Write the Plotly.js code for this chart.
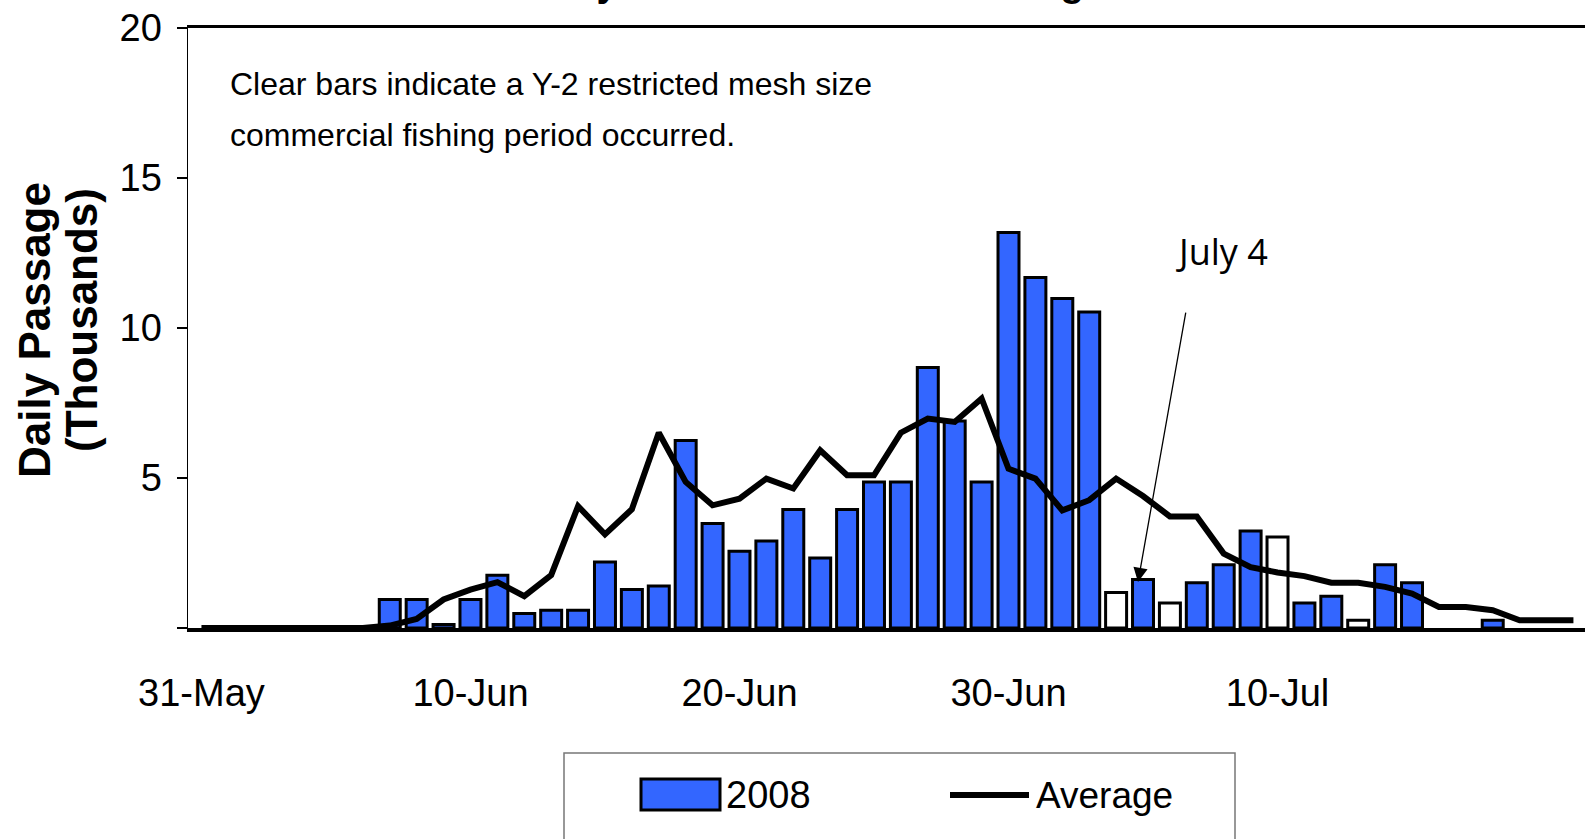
<!DOCTYPE html>
<html>
<head>
<meta charset="utf-8">
<script src="https://cdn.plot.ly/plotly-3.0.1.min.js"></script>
<style>html,body{margin:0;padding:0;background:#fff;}#chart{width:1585px;height:839px;}</style>
</head>
<body>
<div id="chart"></div>
<script>
// ---- data ----
const dates = ['31-May',
  '1-Jun','2-Jun','3-Jun','4-Jun','5-Jun','6-Jun','7-Jun','8-Jun','9-Jun','10-Jun',
  '11-Jun','12-Jun','13-Jun','14-Jun','15-Jun','16-Jun','17-Jun','18-Jun','19-Jun','20-Jun',
  '21-Jun','22-Jun','23-Jun','24-Jun','25-Jun','26-Jun','27-Jun','28-Jun','29-Jun','30-Jun',
  '1-Jul','2-Jul','3-Jul','4-Jul','5-Jul','6-Jul','7-Jul','8-Jul','9-Jul','10-Jul',
  '11-Jul','12-Jul','13-Jul','14-Jul','15-Jul','16-Jul','17-Jul','18-Jul','19-Jul','20-Jul','21-Jul'];
const tickLabels = ['31-May','10-Jun','20-Jun','30-Jun','10-Jul'];
const passage2008 = [null,null,null,null,null,null,null,
  0.95,0.95,0.12,0.95,1.76,0.48,0.59,0.59,2.2,1.28,1.4,6.25,3.48,2.56,2.9,3.95,2.33,3.95,
  4.87,4.87,8.68,6.9,4.87,13.18,11.68,10.98,10.53,1.18,1.62,0.83,1.51,2.11,3.23,3.03,
  0.83,1.06,0.26,2.11,1.51,null,null,0.26,null,null,null];
const average = [0,0,0,0,0,0,0,
  0.08,0.3,0.95,1.28,1.53,1.06,1.76,4.06,3.12,3.96,6.51,4.87,4.09,4.31,4.98,4.65,5.92,5.09,
  5.09,6.51,6.98,6.87,7.65,5.31,4.98,3.92,4.26,4.98,4.4,3.72,3.72,2.48,2.03,1.85,
  1.73,1.51,1.51,1.37,1.15,0.7,0.7,0.59,0.26,0.26,0.26];
const restrictedDays = ['4-Jul','6-Jul','10-Jul','13-Jul'];
const yTickVals = [0,5,10,15,20];
const yTickText = ['','5','10','15','20'];
const seriesNames = ['2008','Average'];

// ---- style ----
const FONT = 'Liberation Sans, Arial, sans-serif';
const BLUE = '#3366FF';
const W = 1585, H = 839, L = 188, T = 28, PH = 600, R = 0;
const PW = W - L - R;
const B = T + PH;
const XR = [-0.5, 51.43];
const px = v => (v - L) / PW;      // pixel -> paper x
const py = v => (B - v) / PH;      // pixel -> paper y

const barColors = dates.map(d => restrictedDays.includes(d) ? '#FFFFFF' : BLUE);

const traces = [
  {type:'bar', name: seriesNames[0], x: dates, y: passage2008,
   marker:{color: barColors, line:{color:'#000', width:3}}, showlegend:false, hoverinfo:'x+y'},
  {type:'scatter', mode:'lines', name: seriesNames[1], x: dates, y: average,
   line:{color:'#000', width:6}, showlegend:false, hoverinfo:'x+y'}
];

const layout = {
  width: W, height: H,
  margin:{l:L, r:R, t:T, b:H-B, pad:0},
  paper_bgcolor:'#fff', plot_bgcolor:'#fff',
  font:{family: FONT, color:'#000'},
  bargap: 0.22,
  showlegend:false,
  xaxis:{type:'category', range: XR, tickmode:'array', tickvals: tickLabels, ticktext: tickLabels,
    ticks:'', showline:true, linecolor:'#000', linewidth:3.5, mirror:true,
    showgrid:false, zeroline:false, tickfont:{size:38, family:FONT}, ticklabelstandoff:29,
    fixedrange:true},
  xaxis2:{type:'linear', overlaying:'x', anchor:'y', side:'bottom', range: XR,
    tickmode:'linear', tick0:-0.5, dtick:5, ticks:'outside', ticklen:15, tickwidth:1.5, tickcolor:'#808080',
    showticklabels:false, showline:false, showgrid:false, zeroline:false,
    minor:{tick0:2, dtick:5, ticks:'inside', ticklen:10, tickwidth:1.5, tickcolor:'#000', showgrid:false}},
  yaxis:{range:[0,20], tickmode:'array', tickvals: yTickVals, ticktext: yTickText,
    ticks:'outside', ticklen:10, tickwidth:1.5, tickcolor:'#000',
    showline:true, linecolor:'#000', linewidth:1.5, mirror:false,
    showgrid:false, zeroline:false, tickfont:{size:38, family:FONT}, ticklabelstandoff:7},
  yaxis2:{range:[0,20], overlaying:'y', anchor:'x', side:'left', tickmode:'array', tickvals:[5,10,15],
    ticks:'inside', ticklen:12, tickwidth:1.5, tickcolor:'#000', showticklabels:false,
    showline:false, showgrid:false, zeroline:false},
  annotations:[
    {text:'<b>Daily Chinook Salmon Passage</b>', xref:'paper', yref:'paper', x:px(523), y:1,
     xanchor:'left', yanchor:'bottom', yshift:22, showarrow:false, font:{size:39, family:FONT}},
    // y-axis title (two lines)
    {text:'<b>Daily Passage</b>', xref:'paper', yref:'paper', x:px(34), y:py(330), textangle:-90,
     xanchor:'center', yanchor:'middle', showarrow:false, font:{size:44, family:FONT}},
    {text:'<b>(Thousands)</b>', xref:'paper', yref:'paper', x:px(81), y:py(320), textangle:-90,
     xanchor:'center', yanchor:'middle', showarrow:false, font:{size:44, family:FONT}},
    {text:'Clear bars indicate a Y-2 restricted mesh size', xref:'paper', yref:'paper',
     x:px(228), y:py(84), xanchor:'left', yanchor:'middle', showarrow:false, font:{size:32, family:FONT}},
    {text:'commercial fishing period occurred.', xref:'paper', yref:'paper',
     x:px(228), y:py(135), xanchor:'left', yanchor:'middle', showarrow:false, font:{size:32, family:FONT}},
    {text:'July 4', xref:'paper', yref:'paper', x:px(1222), y:py(251), xanchor:'center', yanchor:'middle',
     showarrow:false, font:{size:36, family:'Open Sans, sans-serif'}},
    {text:'', x:'5-Jul', y:1.53, xref:'x', yref:'y', xshift:-5, showarrow:true,
     ax:48, ay:-271, arrowhead:2, arrowsize:2.2, arrowwidth:1.3, arrowcolor:'#000'},
    // legend labels
    {text:seriesNames[0], xref:'paper', yref:'paper', x:px(724), y:py(795), xanchor:'left', yanchor:'middle',
     showarrow:false, font:{size:38, family:FONT}},
    {text:seriesNames[1], xref:'paper', yref:'paper', x:px(1034), y:py(795), xanchor:'left', yanchor:'middle',
     showarrow:false, font:{size:37, family:FONT}}
  ],
  shapes:[
    // legend frame
    {type:'rect', xref:'paper', yref:'paper', x0:px(564), x1:px(1235), y0:py(753), y1:py(860),
     line:{color:'#777', width:1.5}, fillcolor:'rgba(0,0,0,0)'},
    // legend swatches
    {type:'rect', xref:'paper', yref:'paper', x0:px(641), x1:px(720), y0:py(779), y1:py(810),
     line:{color:'#000', width:3}, fillcolor:BLUE},
    {type:'line', xref:'paper', yref:'paper', x0:px(950), x1:px(1029), y0:py(795), y1:py(795),
     line:{color:'#000', width:6}}
  ]
};

Plotly.newPlot('chart', traces, layout, {displayModeBar:false, staticPlot:true});
</script>
</body>
</html>
